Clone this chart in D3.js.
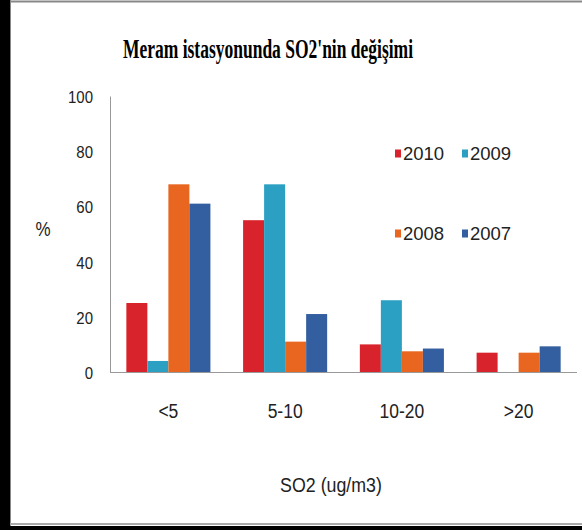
<!DOCTYPE html>
<html>
<head>
<meta charset="utf-8">
<script src="https://cdn.jsdelivr.net/npm/d3@7"></script>
<style>
  body { margin: 0; background: #fff; }
  svg { display: block; }
  .lbl { font-family: "Liberation Sans", Arial, sans-serif; fill: #222; }
</style>
</head>
<body>
<div id="chart"></div>
<script>
const categories = ["<5", "5-10", "10-20", ">20"];
const years = ["2010", "2009", "2008", "2007"];
const colors = ["#d9232c", "#2ba0c2", "#e8661f", "#335e9f"];
const values2010 = [25, 55, 10, 7];
const values2009 = [4, 68, 26, 0];
const values2008 = [68, 11, 7.5, 7];
const values2007 = [61, 21, 8.5, 9.3];
const yTicks = [0, 20, 40, 60, 80, 100];

const series = [values2010, values2009, values2008, values2007];

const w = 582, h = 530;
const svg = d3.select("#chart").append("svg")
  .attr("width", w).attr("height", h);

// frame
svg.append("rect").attr("x", 0).attr("y", 0).attr("width", 10).attr("height", h).attr("fill", "#000");
svg.append("rect").attr("x", 0).attr("y", 526).attr("width", w).attr("height", 4).attr("fill", "#000");
svg.append("line").attr("x1", 10).attr("x2", w).attr("y1", 1.5).attr("y2", 1.5).attr("stroke", "#888").attr("stroke-width", 2);
svg.append("line").attr("x1", 10.5).attr("x2", 10.5).attr("y1", 0).attr("y2", 526).attr("stroke", "#888");
svg.append("line").attr("x1", 10).attr("x2", w).attr("y1", 524).attr("y2", 524).attr("stroke", "#aaa").attr("stroke-width", 2);

const plotL = 110, plotR = 577, plotT = 96, plotB = 372;

const x0 = d3.scaleBand().domain(categories).range([plotL, plotR]).paddingInner(0.28).paddingOuter(0.14);
const x1 = d3.scaleBand().domain(years).range([0, x0.bandwidth()]);
const y = d3.scaleLinear().domain([0, 100]).range([plotB, plotT]);

// text in the original is stretched vertically
function tallText(sel, x, yy, sy) {
  return sel.attr("x", null).attr("y", null).attr("dy", null)
    .attr("transform", `translate(${x},${yy}) scale(1,${sy})`);
}

// title
svg.append("text")
  .attr("x", 268).attr("y", 58)
  .attr("text-anchor", "middle")
  .attr("textLength", 290).attr("lengthAdjust", "spacingAndGlyphs")
  .style("font-family", "'Liberation Serif', 'Times New Roman', serif")
  .style("font-weight", "bold").style("font-size", "27px")
  .text("Meram istasyonunda  SO2'nin  değişimi");

// bars
const groups = svg.append("g").selectAll("g")
  .data(categories)
  .enter().append("g")
  .attr("transform", d => `translate(${x0(d)},0)`);

groups.selectAll("rect")
  .data((c, ci) => years.map((yr, si) => ({ yr, v: series[si][ci], col: colors[si] })))
  .enter().append("rect")
  .attr("x", d => x1(d.yr))
  .attr("width", x1.bandwidth())
  .attr("y", d => y(d.v))
  .attr("height", d => y(0) - y(d.v))
  .attr("fill", d => d.col);

// axes
const yAxis = d3.axisLeft(y).tickValues(yTicks).tickSize(0);
const gy = svg.append("g").attr("transform", `translate(${plotL},0)`).call(yAxis);
gy.select(".domain").attr("stroke", "#999");
gy.selectAll("text").attr("class", "lbl").attr("fill", null)
  .style("font-size", "15px")
  .call(tallText, -17, 6.5, 1.12);

const xAxis = d3.axisBottom(x0).tickSize(0);
const gx = svg.append("g").attr("transform", `translate(0,${plotB})`).call(xAxis);
gx.select(".domain").attr("stroke", "#999").attr("d", `M${plotL},0.5H${plotR}`);
gx.selectAll("text").attr("class", "lbl").attr("fill", null)
  .style("font-size", "17.5px")
  .call(tallText, 0, 46, 1.2);

// axis titles
svg.append("text").attr("class", "lbl")
  .attr("text-anchor", "middle")
  .style("font-size", "17px").text("%")
  .call(tallText, 43, 236, 1.15);
svg.append("text").attr("class", "lbl")
  .attr("text-anchor", "middle")
  .style("font-size", "17.8px").text("SO2 (ug/m3)")
  .call(tallText, 331, 492, 1.18);

// legend
const legPos = [[395, 153], [462, 153], [395, 233], [462, 233]];
const leg = svg.append("g").selectAll("g")
  .data(years)
  .enter().append("g")
  .attr("transform", (d, i) => `translate(${legPos[i][0]},${legPos[i][1]})`);
leg.append("rect").attr("x", 0).attr("y", -3.5).attr("width", 6).attr("height", 8)
  .attr("fill", (d, i) => colors[i]);
leg.append("text").attr("class", "lbl")
  .style("font-size", "18.5px")
  .text(d => d)
  .call(tallText, 8, 7, 1.0);
</script>
</body>
</html>
